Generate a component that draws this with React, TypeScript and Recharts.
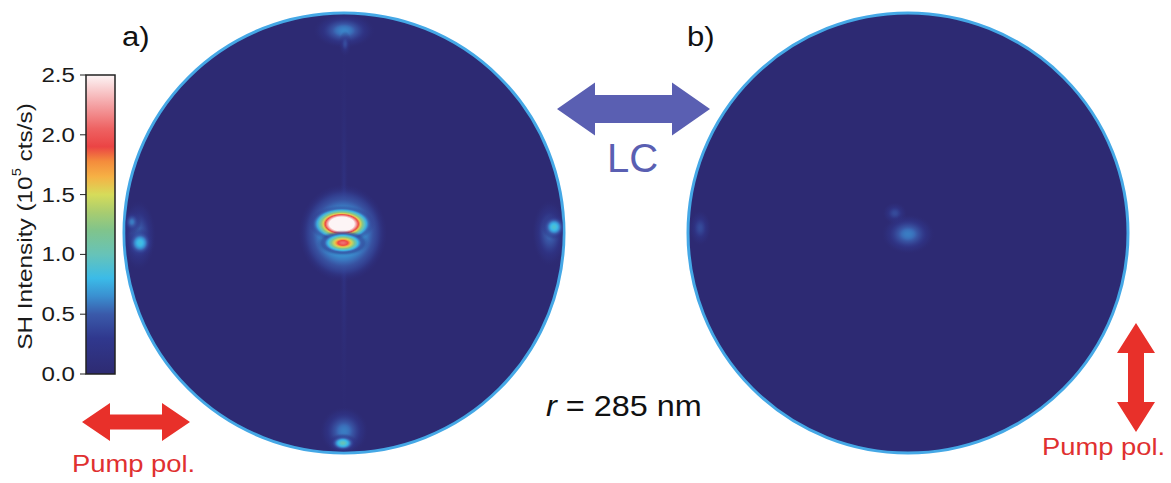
import {
  ReferenceArea,
  Scatter,
  ScatterChart,
  XAxis,
  YAxis,
} from "recharts";

// colour scale of the SH intensity (10^5 cts/s)
const CB_TICKS = [0, 0.5, 1.0, 1.5, 2.0, 2.5];
const CMAP_VALUES = [0, 0.3, 0.5, 0.65, 0.8, 1.0, 1.2, 1.35, 1.5, 1.65, 1.78, 1.9, 2.05, 2.25, 2.5];
const CMAP_COLORS = [
  "#2e2b72", "#30388e", "#3a5aaa", "#3a8fd0", "#3bbbe8", "#67c3b8", "#80c48c", "#a8cc70",
  "#d6dc5a", "#f6b145", "#f48b3c", "#eb4444", "#ee6262", "#f4a2a4", "#fdf5f6",
];

// spots in units of the disc radius (x right, y up), peak in 10^5 cts/s, k = falloff
const SPOTS_A = [
  { id: "a-streak", x: 0.0, y: 0.0, sx: 0.02, sy: 0.97, peak: 0.3, k: 2 },
  { id: "a-top", x: 0.0, y: 0.92, sx: 0.14, sy: 0.08, peak: 0.62, k: 1.6 },
  { id: "a-top-tail", x: 0.005, y: 0.86, sx: 0.03, sy: 0.06, peak: 0.45, k: 2 },
  { id: "a-bot-halo", x: 0.0, y: -0.9, sx: 0.11, sy: 0.11, peak: 0.6, k: 1.5 },
  { id: "a-bot", x: -0.005, y: -0.955, sx: 0.07, sy: 0.045, peak: 1.0, k: 2.5 },
  { id: "a-left-halo", x: -0.935, y: -0.01, sx: 0.08, sy: 0.16, peak: 0.55, k: 1.5 },
  { id: "a-left-1", x: -0.964, y: 0.05, sx: 0.045, sy: 0.055, peak: 0.6, k: 2 },
  { id: "a-left-2", x: -0.927, y: -0.045, sx: 0.065, sy: 0.07, peak: 0.85, k: 2.2 },
  { id: "a-right-halo", x: 0.935, y: 0.0, sx: 0.08, sy: 0.15, peak: 0.55, k: 1.5 },
  { id: "a-right", x: 0.955, y: 0.027, sx: 0.06, sy: 0.06, peak: 0.9, k: 2.2 },
  { id: "a-center-halo", x: -0.005, y: 0.0, sx: 0.2, sy: 0.22, peak: 0.85, k: 1.2 },
  { id: "a-center-high", x: -0.01, y: 0.041, sx: 0.15, sy: 0.085, peak: 4.0, k: 3 },
  { id: "a-center-low", x: -0.005, y: -0.045, sx: 0.12, sy: 0.06, peak: 2.1, k: 3 },
];
const SPOTS_B = [
  { id: "b-left", x: -0.945, y: 0.023, sx: 0.05, sy: 0.08, peak: 0.45, k: 1.5 },
  { id: "b-upper", x: -0.06, y: 0.09, sx: 0.055, sy: 0.05, peak: 0.45, k: 1.5 },
  { id: "b-main", x: 0.0, y: -0.005, sx: 0.12, sy: 0.09, peak: 0.6, k: 1.5 },
];
const DISC = [{ x: 0, y: 0 }];
const CB_DATA = [{ x: 0, y: 0 }, { x: 1, y: 2.5 }];

const FONT = '"Liberation Sans", Arial, Helvetica, sans-serif';
const CHART = 460;
const R = 220;
const DOM = CHART / 2 / R;
const BG = "#2d2a73";
const RIM = "#45a8e6";

function hexToRgb(h: string) {
  const n = parseInt(h.slice(1), 16);
  return [(n >> 16) & 255, (n >> 8) & 255, n & 255];
}

function cmap(v: number) {
  const c = Math.max(0, Math.min(2.5, v));
  let i = 0;
  while (i < CMAP_VALUES.length - 2 && c > CMAP_VALUES[i + 1]) i++;
  const f = (c - CMAP_VALUES[i]) / (CMAP_VALUES[i + 1] - CMAP_VALUES[i]);
  const a = hexToRgb(CMAP_COLORS[i]);
  const b = hexToRgb(CMAP_COLORS[i + 1]);
  const m = a.map((x, k) => Math.round(x + (b[k] - x) * f));
  return `rgb(${m[0]},${m[1]},${m[2]})`;
}

function DiscShape(props: any) {
  const { cx, cy, clipId } = props;
  return (
    <g>
      <defs>
        <clipPath id={clipId}>
          <circle cx={cx} cy={cy} r={R - 1} />
        </clipPath>
      </defs>
      <circle cx={cx} cy={cy} r={R} fill={BG} stroke={RIM} strokeWidth={3} />
    </g>
  );
}

function SpotShape(props: any) {
  const { cx, cy, payload, clipId } = props;
  const id = `spot-${payload.id}`;
  const stops = [];
  for (let k = 0; k <= 16; k++) {
    const t = k / 16;
    const v = payload.peak * Math.exp(-payload.k * t * t);
    const edge = t < 0.8 ? 1 : (1 - t) / 0.2;
    const op = Math.min(1, v / 0.55) * edge;
    stops.push(<stop key={k} offset={t} stopColor={cmap(v)} stopOpacity={op} />);
  }
  return (
    <g clipPath={`url(#${clipId})`}>
      <defs>
        <radialGradient id={id} cx="50%" cy="50%" r="50%">
          {stops}
        </radialGradient>
      </defs>
      <ellipse cx={cx} cy={cy} rx={payload.sx * R} ry={payload.sy * R} fill={`url(#${id})`} />
    </g>
  );
}

function Panel({ name, spots, left, top }: { name: string; spots: any[]; left: number; top: number }) {
  const clipId = `disc-clip-${name}`;
  return (
    <div style={{ position: "absolute", left, top }}>
      <ScatterChart width={CHART} height={CHART} margin={{ top: 0, right: 0, bottom: 0, left: 0 }}>
        <XAxis type="number" dataKey="x" domain={[-DOM, DOM]} hide />
        <YAxis type="number" dataKey="y" domain={[-DOM, DOM]} hide />
        <Scatter data={DISC} shape={(p: any) => <DiscShape {...p} clipId={clipId} />} isAnimationActive={false} />
        <Scatter data={spots} shape={(p: any) => <SpotShape {...p} clipId={clipId} />} isAnimationActive={false} />
      </ScatterChart>
    </div>
  );
}

function CbLabel(props: any) {
  const vb = props.viewBox || { x: 0, y: 75, width: 86, height: 299 };
  const x = vb.x + 25;
  const y = vb.y + vb.height / 2 + 2;
  return (
    <text transform={`translate(${x} ${y}) rotate(-90) scale(1.22 1)`} x={0} y={0} textAnchor="middle"
      dominantBaseline="central" fontSize={20} fill="#1a1a1a" fontFamily={FONT}>
      SH Intensity (10<tspan dy={-8} fontSize={12}>5</tspan><tspan dy={8}> cts/s)</tspan>
    </text>
  );
}

function CbTick(props: any) {
  const { x, y, payload } = props;
  return (
    <text transform={`translate(${x} ${y}) scale(1.15 1)`} x={0} y={0} textAnchor="end" dominantBaseline="central"
      fontSize={21} fill="#1a1a1a" fontFamily={FONT}>
      {Number(payload.value).toFixed(1)}
    </text>
  );
}

function ColorBar() {
  return (
    <div style={{ position: "absolute", left: 0, top: 0 }}>
      <ScatterChart width={116} height={400} margin={{ top: 75, right: 1, bottom: 26, left: 0 }}>
        <defs>
          <linearGradient id="cbGrad" x1="0" y1="1" x2="0" y2="0">
            {CMAP_VALUES.map((v, i) => (
              <stop key={i} offset={v / 2.5} stopColor={CMAP_COLORS[i]} />
            ))}
          </linearGradient>
        </defs>
        <XAxis type="number" dataKey="x" domain={[0, 1]} hide />
        <YAxis
          type="number"
          dataKey="y"
          domain={[0, 2.5]}
          ticks={CB_TICKS}
          width={86}
          tickSize={6}
          tickMargin={5}
          axisLine={false}
          tickLine={{ stroke: "#222" }}
          tick={<CbTick />}
          label={<CbLabel />}
        />
        <Scatter data={CB_DATA} shape={() => <g />} isAnimationActive={false} />
        <ReferenceArea x1={0} x2={1} y1={0} y2={2.5} fill="url(#cbGrad)" fillOpacity={1} stroke="#222" strokeWidth={1.5} />
      </ScatterChart>
    </div>
  );
}

function hArrow(x1: number, x2: number, cy: number, hl: number, hh: number, sh: number) {
  return [
    [x1, cy], [x1 + hl, cy - hh / 2], [x1 + hl, cy - sh / 2], [x2 - hl, cy - sh / 2], [x2 - hl, cy - hh / 2],
    [x2, cy], [x2 - hl, cy + hh / 2], [x2 - hl, cy + sh / 2], [x1 + hl, cy + sh / 2], [x1 + hl, cy + hh / 2],
  ].map((p) => p.join(",")).join(" ");
}

function vArrow(y1: number, y2: number, cx: number, hl: number, hw: number, sw: number) {
  return [
    [cx, y1], [cx + hw / 2, y1 + hl], [cx + sw / 2, y1 + hl], [cx + sw / 2, y2 - hl], [cx + hw / 2, y2 - hl],
    [cx, y2], [cx - hw / 2, y2 - hl], [cx - sw / 2, y2 - hl], [cx - sw / 2, y1 + hl], [cx - hw / 2, y1 + hl],
  ].map((p) => p.join(",")).join(" ");
}

const textStyle = (left: number, top: number, size: number, color: string, sx = 1): React.CSSProperties => ({
  position: "absolute", left, top, fontSize: size, color, fontFamily: FONT, lineHeight: 1, whiteSpace: "nowrap",
  transform: `scaleX(${sx})`, transformOrigin: "0 0",
});

export default function App() {
  return (
    <div style={{ position: "absolute", left: 0, top: 0, width: 1171, height: 483, background: "#fff", overflow: "hidden" }}>
      <ColorBar />
      <Panel name="a" spots={SPOTS_A} left={344 - CHART / 2} top={233 - CHART / 2} />
      <Panel name="b" spots={SPOTS_B} left={908 - CHART / 2} top={233 - CHART / 2} />
      <svg width={1171} height={483} style={{ position: "absolute", left: 0, top: 0, pointerEvents: "none" }}>
        <polygon points={hArrow(557, 710, 109, 38, 53, 28)} fill="#5a5fb2" />
        <polygon points={hArrow(82, 190, 422, 28, 38, 15)} fill="#e8302a" />
        <polygon points={vArrow(323, 432, 1136, 30, 38, 16)} fill="#e8302a" />
      </svg>
      <div style={textStyle(122, 24, 27, "#111", 1.15)}>a)</div>
      <div style={textStyle(687, 24, 27, "#111", 1.15)}>b)</div>
      <div style={textStyle(607, 138, 40, "#5a5fb2")}>LC</div>
      <div style={textStyle(546, 391, 30, "#111", 1.08)}>
        <i>r</i> = 285 nm
      </div>
      <div style={textStyle(72, 452, 24, "#e03030", 1.14)}>Pump pol.</div>
      <div style={textStyle(1042, 435, 24, "#e03030", 1.14)}>Pump pol.</div>
    </div>
  );
}
